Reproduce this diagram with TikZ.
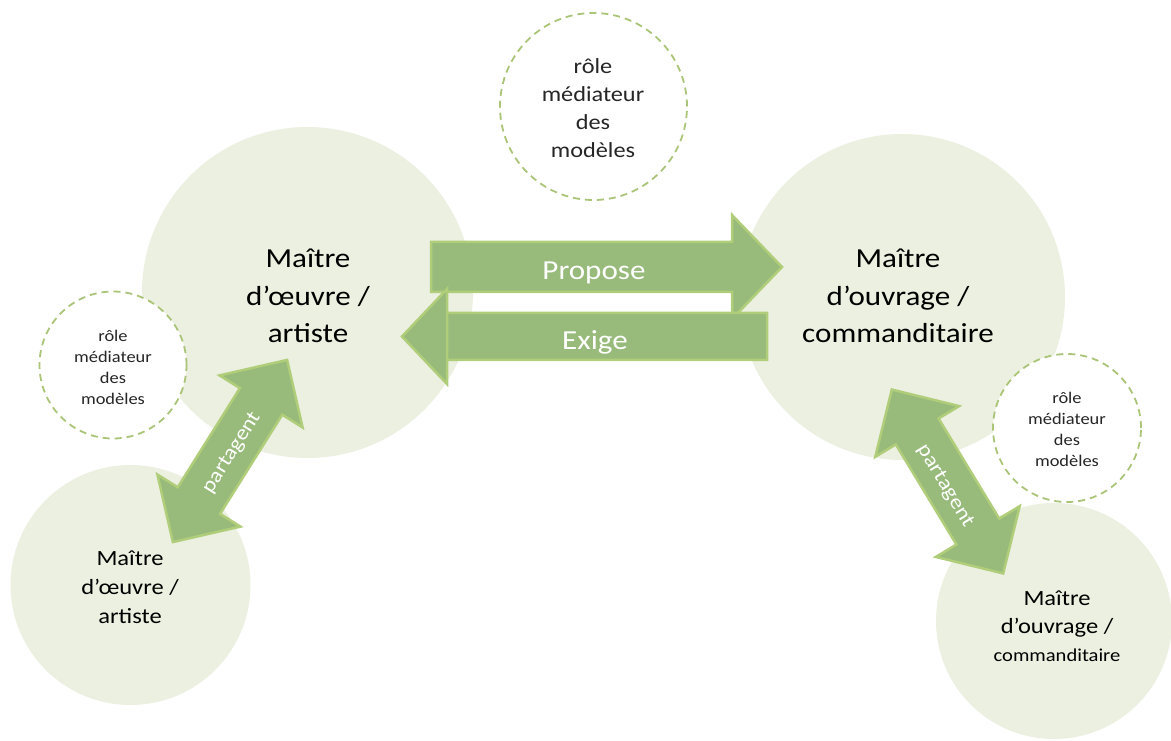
\documentclass[tikz,border=0pt]{standalone}
\usepackage{fontspec}
\setmainfont{Carlito}[FakeStretch=1.13]
\definecolor{circfill}{RGB}{235,240,224}
\definecolor{arrfill}{RGB}{152,187,123}
\definecolor{arrdraw}{RGB}{176,205,122}
\definecolor{dashcol}{RGB}{170,196,120}
\tikzset{
  bigc/.style={circle, fill=circfill, inner sep=0pt},
  dashc/.style={circle, fill=white, draw=dashcol, line width=1.8pt, dash pattern=on 7pt off 5pt, inner sep=0pt},
  ctext/.style={align=center, text=black, inner sep=0pt, anchor=base},
  blockarrow/.style={fill=arrfill, draw=arrdraw, line width=2.5pt, line join=miter},
  arrtext/.style={text=white, inner sep=0pt},
}
\begin{document}
\begin{tikzpicture}[x=1pt,y=1pt]
\useasboundingbox (0,0) rectangle (1171,740);
% big circles
\node[bigc, minimum size=331pt] (moL) at (307.5,447.5) {};
\node[bigc, minimum size=326pt] (moR) at (902,443) {};
\node[bigc, minimum size=240pt] (smL) at (130.5,155) {};
\node[bigc, minimum size=236pt] (smR) at (1054,119) {};
% dashed circles
\node[dashc, minimum size=187pt] (rT) at (593.5,633.5) {};
\node[dashc, minimum size=147pt] (rL) at (113,375) {};
\node[dashc, minimum size=148pt] (rR) at (1067,312) {};
% texts (anchor base = baseline of last line)
\node[ctext, font=\fontsize{27.5}{37.5}\selectfont] (moLt) at (308,397) {Maître\\d’œuvre /\\artiste};
\node[ctext, font=\fontsize{27.5}{37.5}\selectfont] (moRt) at (898,397) {Maître\\d’ouvrage /\\commanditaire};
\node[ctext, font=\fontsize{21.7}{29}\selectfont] (smLt) at (130,117) {Maître\\d’œuvre /\\artiste};
\node[ctext, font=\fontsize{21.7}{28}\selectfont] (smRt) at (1057,79) {Maître\\d’ouvrage /\\{\fontsize{18.2}{26}\selectfont commanditaire}};
\node[ctext, font=\fontsize{21.5}{28}\selectfont, text=black!85] (rTt) at (593,582) {rôle\\médiateur\\des\\modèles};
\node[ctext, font=\fontsize{16.3}{21.3}\selectfont, text=black!85] (rLt) at (113,335) {rôle\\médiateur\\des\\modèles};
\node[ctext, font=\fontsize{16.3}{21.3}\selectfont, text=black!85] (rRt) at (1067,273) {rôle\\médiateur\\des\\modèles};
% Propose arrow
\draw[blockarrow] (431,448) -- (431,498) -- (732,498) -- (732,525) -- (782,473) -- (732,421) -- (732,448) -- cycle;
\node[arrtext, anchor=base, font=\fontsize{27.5}{30}\selectfont] (propose) at (594,460) {Propose};
% Exige arrow
\draw[blockarrow] (767,427) -- (767,380) -- (447,380) -- (447,451) -- (402,403.5) -- (447,356) -- (447,427) -- cycle;
\node[arrtext, anchor=base, font=\fontsize{27.5}{30}\selectfont] (exige) at (595,390) {Exige};
% partagent left
\begin{scope}[shift={(230,289)}, rotate=57.9]
\draw[blockarrow] (-107.5,0) -- (-58.5,49) -- (-58.5,25) -- (58.5,25) -- (58.5,49) -- (107.5,0) -- (58.5,-49) -- (58.5,-25) -- (-58.5,-25) -- (-58.5,-49) -- cycle;
\end{scope}
\node[arrtext, rotate=57.9, font=\fontsize{20.6}{24}\selectfont] (partL) at (232,287) {partagent};
% partagent right
\begin{scope}[shift={(947.5,258.5)}, rotate=-58.8]
\draw[blockarrow] (-107.5,0) -- (-58.5,49) -- (-58.5,25) -- (58.5,25) -- (58.5,49) -- (107.5,0) -- (58.5,-49) -- (58.5,-25) -- (-58.5,-25) -- (-58.5,-49) -- cycle;
\end{scope}
\node[arrtext, rotate=-58.8, font=\fontsize{20.6}{24}\selectfont] (partR) at (945,254) {partagent};
\end{tikzpicture}
\end{document}
